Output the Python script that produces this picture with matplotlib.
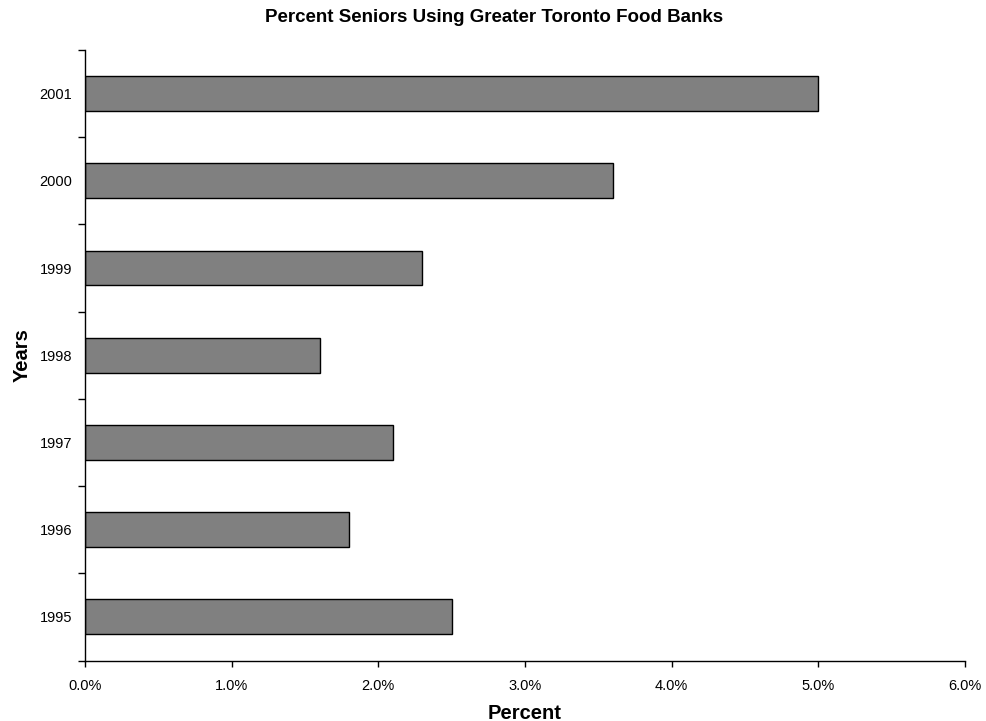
import matplotlib
matplotlib.use('Agg')
import matplotlib.pyplot as plt
from matplotlib.ticker import FuncFormatter, FixedLocator

plt.rcParams['font.family'] = ['Liberation Sans', 'DejaVu Sans']

years = ['1995', '1996', '1997', '1998', '1999', '2000', '2001']
percent = [2.5, 1.8, 2.1, 1.6, 2.3, 3.6, 5.0]

fig = plt.figure(figsize=(9.86, 7.21), dpi=100)
ax = fig.add_axes([85 / 986, 1 - 660.5 / 721, (965 - 85) / 986, (660.5 - 50) / 721])

pos = range(len(years))
ax.barh(pos, percent, height=0.4, color='#808080', edgecolor='black', linewidth=1)

ax.set_xlim(0, 6)
ax.set_ylim(-0.5, len(years) - 0.5)
ax.set_xticks([0, 1, 2, 3, 4, 5, 6])
ax.xaxis.set_major_formatter(FuncFormatter(lambda v, p: f'{v:.1f}%'))
ax.set_yticks(list(pos))
ax.set_yticklabels(years)
ax.tick_params(axis='y', length=0, pad=9, labelsize=10.5)
# category separators on the y axis, like a spreadsheet chart
ax.yaxis.set_minor_locator(FixedLocator([i - 0.5 for i in range(len(years) + 1)]))
ax.tick_params(axis='y', which='minor', length=5, width=1)
ax.tick_params(axis='x', length=4, width=1, labelsize=10.5, pad=9)

for s in ['top', 'right']:
    ax.spines[s].set_visible(False)
ax.spines['left'].set_linewidth(1)
ax.spines['bottom'].set_linewidth(1)

ax.set_xlabel('Percent', fontsize=14.5, fontweight='bold', labelpad=8)
ax.set_ylabel('Years', fontsize=14.5, fontweight='bold', labelpad=6)
fig.text(494 / 986, 1 - 17 / 721, 'Percent Seniors Using Greater Toronto Food Banks',
         ha='center', va='center', fontsize=13.5, fontweight='bold')

fig.savefig('out.png', dpi=100)
